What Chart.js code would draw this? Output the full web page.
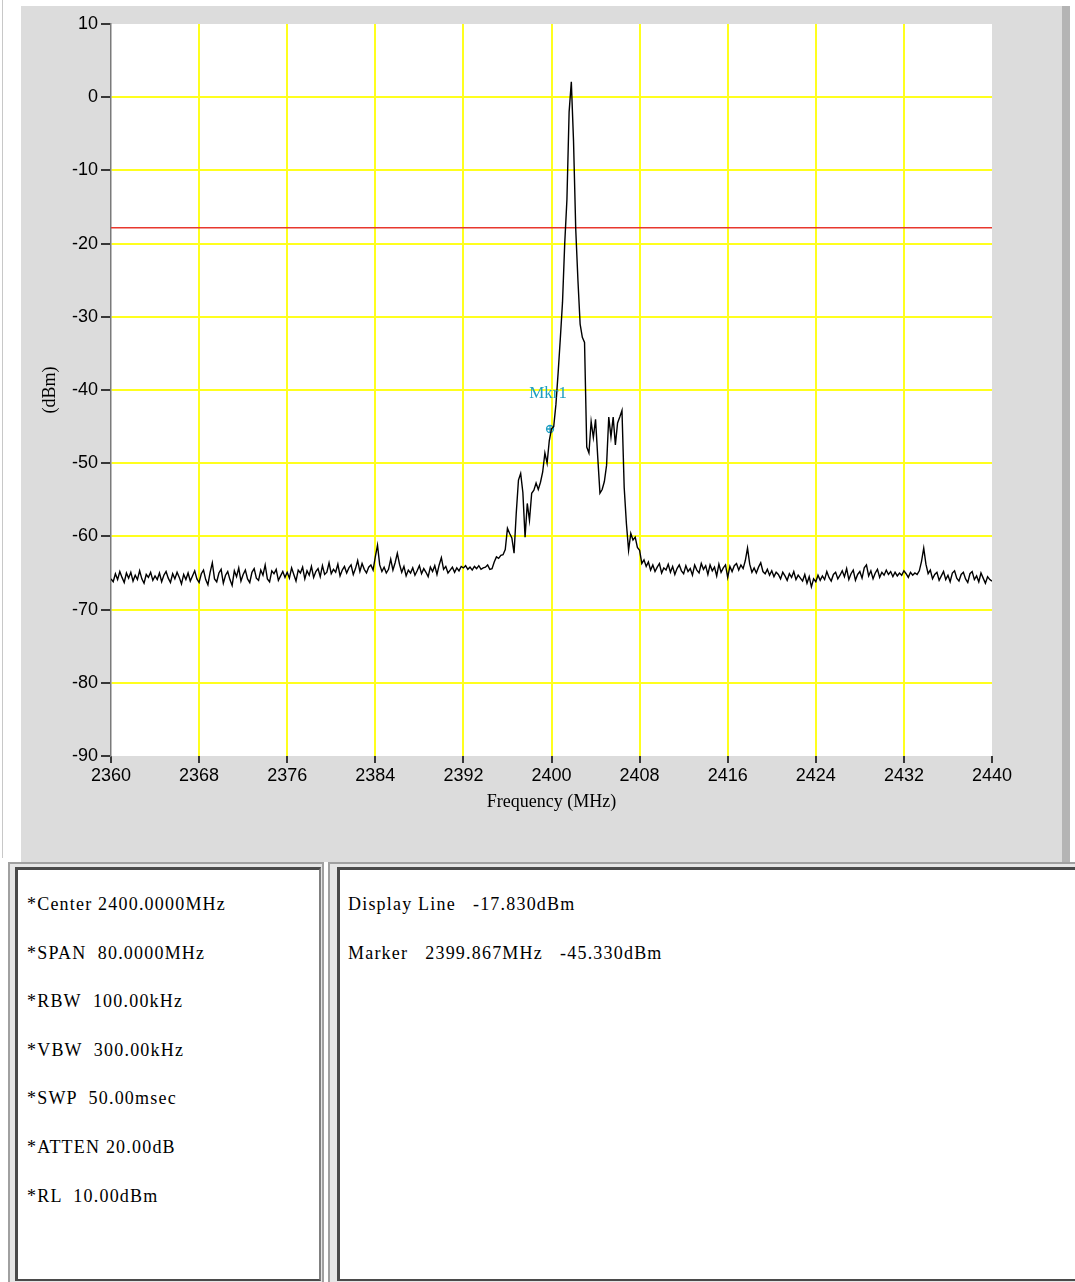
<!DOCTYPE html>
<html>
<head>
<meta charset="utf-8">
<script src="https://cdn.jsdelivr.net/npm/chart.js@4.4.1/dist/chart.umd.min.js"></script>
<style>
    body { margin: 0; background: #fff; width: 1075px; height: 1282px; position: relative; overflow: hidden; }
    #edge { position: absolute; left: 2px; top: 0; width: 1px; height: 858px; background: #c8c8c8; }
    #panel { position: absolute; left: 21px; top: 6px; width: 1041px; height: 856px; background: #dcdcdc; }
    #panelEdge { position: absolute; left: 1062px; top: 6px; width: 8px; height: 856px; background: #b4b4b4; }
    #plot { position: absolute; left: 0; top: 0; }
    .frame { position: absolute; box-sizing: border-box; background: #e6e6e6; border: 2px solid #a0a0a0; }
    .inner { position: absolute; box-sizing: border-box; background: #fff; border-left: 3px solid #4a4a4a; border-top: 3px solid #4a4a4a; border-bottom: 2px solid #4a4a4a; }
    #leftFrame { left: 8px; top: 862px; width: 316px; height: 430px; }
    #leftInner { left: 15px; top: 867px; width: 306px; height: 414px; border-right: 2px solid #808080; }
    #rightFrame { left: 328px; top: 862px; width: 760px; height: 430px; }
    #rightInner { left: 337px; top: 867px; width: 750px; height: 414px; }
    .txt { position: absolute; font-family: "Liberation Serif", serif; font-size: 18px; letter-spacing: 1.2px; color: #000; white-space: pre; line-height: 20px; }
</style>
</head>
<body>
<div id="edge"></div>
<div id="panel"></div>
<div id="panelEdge"></div>
<canvas id="plot" width="1075" height="860"></canvas>
<div class="frame" id="leftFrame"></div>
<div class="inner" id="leftInner"></div>
<div class="frame" id="rightFrame"></div>
<div class="inner" id="rightInner"></div>
<script>
// sweep: 401 points, 2360..2440 MHz
const FREQ_START = 2360;
const FREQ_STEP = 0.2;

// 2360.0 - 2391.8 MHz
const NOISE_LOW = [
    -65.8, -66.2, -65.1, -65.9, -64.8, -65.6, -66.3, -65.0, -65.7, -64.9,
    -66.1, -65.3, -65.9, -64.7, -65.8, -66.4, -65.2, -65.6, -64.9, -66.0,
    -65.4, -65.9, -65.0, -66.2, -65.3, -64.8, -65.7, -66.3, -65.1, -65.8,
    -64.9, -65.6, -66.5, -65.2, -65.9, -65.0, -66.1, -65.4, -64.7, -65.8,
    -66.3, -65.1, -64.6, -65.9, -66.6, -64.9, -63.6, -65.8, -66.2, -65.0,
    -64.5, -66.4, -65.3, -64.8, -65.9, -66.7, -64.7, -65.5, -64.3, -66.1,
    -65.2, -64.6, -65.8, -66.3, -64.9, -64.4, -65.7, -66.0, -64.6, -65.3,
    -63.9, -65.8, -66.2, -64.7, -65.1, -64.5, -66.0, -65.4, -64.8, -65.6,
    -64.9, -65.7, -64.3, -65.2, -66.1, -64.6, -65.0, -64.2, -65.8, -64.7,
    -65.3, -64.1, -65.6, -64.8, -64.4, -65.5, -64.0, -65.2, -64.9, -63.6,
    -65.1, -64.5, -64.9, -63.8, -65.4, -64.6, -64.1, -65.0, -64.3, -63.9,
    -65.2, -64.4, -63.3, -64.8, -63.7, -64.5, -65.0, -64.2, -63.9, -64.6,
    -62.8, -61.2, -63.9, -64.8, -64.2, -65.0, -64.5, -63.1, -64.6, -63.6,
    -62.3, -63.8, -64.9, -64.1, -65.4, -64.6, -65.0, -64.3, -65.3, -64.7,
    -64.0, -65.1, -64.4, -64.9, -65.5, -64.2, -64.8, -64.0, -65.2, -63.9,
    -62.9, -64.5, -64.1, -65.0, -64.6, -64.2, -64.9, -64.3, -64.7, -64.1,
];

// 2392.0 - 2408.4 MHz
const SIGNAL = [
    -64.3, -64.0, -64.5, -64.2, -64.6, -64.1, -64.4, -64.0, -64.5, -64.3,
    -64.2, -63.9, -64.5, -64.4, -63.5, -62.8, -63.0, -62.6, -62.5, -61.8,
    -58.9, -59.6, -60.2, -62.3, -56.8, -52.3, -51.4, -54.0, -60.1, -55.5,
    -57.8, -54.1, -53.7, -52.7, -53.6, -52.6, -51.2, -48.6, -50.0, -46.9,
    -45.3, -45.0, -42.0, -37.7, -33.0, -28.0, -20.0, -14.0, -2.0, 2.1,
    -6.0, -18.0, -25.0, -31.0, -32.8, -33.5, -47.8, -48.6, -44.3, -46.5,
    -44.0, -49.2, -54.1, -53.6, -52.5, -50.3, -43.7, -46.4, -43.7, -47.5,
    -44.5, -43.7, -42.8, -53.3, -58.2, -61.9, -59.6, -60.5, -60.1, -61.5,
    -61.9, -63.7, -63.2,
];

// 2408.6 - 2440.0 MHz
const NOISE_HIGH = [
    -64.1, -63.5, -64.6, -63.9, -64.8, -64.2, -63.7, -65.0, -64.3, -64.6,
    -63.8, -64.9, -64.1, -65.2, -64.4, -63.9, -64.7, -65.1, -64.0, -64.8,
    -64.4, -65.3, -63.9, -64.6, -65.0, -63.7, -64.5, -64.0, -65.2, -63.9,
    -64.7, -64.2, -65.4, -63.8, -64.9, -64.3, -63.9, -65.6, -64.1, -64.8,
    -64.0, -63.7, -64.6, -63.9, -64.4, -63.3, -61.6, -63.8, -64.9, -64.3,
    -65.0, -64.2, -63.6, -64.8, -65.1, -64.5, -65.3, -64.7, -65.5, -64.9,
    -65.2, -65.8, -64.9, -65.4, -66.0, -65.1, -65.6, -64.8, -65.9, -65.3,
    -65.7, -66.1, -65.2, -66.4, -65.5, -66.9, -65.8, -66.2, -65.3, -66.0,
    -65.4, -65.9, -64.8, -65.6, -66.1, -65.2, -64.9, -65.8, -65.3, -64.7,
    -65.5, -64.4, -65.9, -65.1, -64.6, -66.0, -65.2, -64.8, -65.7, -64.3,
    -63.9, -65.4, -64.7, -65.8, -65.0, -64.5, -65.6, -64.9, -65.3, -64.6,
    -65.2, -64.8, -65.5, -64.9, -65.4, -65.0, -65.3, -64.7, -65.1, -65.6,
    -64.9, -65.3, -65.0, -65.2, -64.7, -63.4, -61.6, -63.8, -65.1, -64.6,
    -65.8, -65.2, -64.9, -66.0, -65.4, -64.8, -65.9, -65.3, -66.2, -65.0,
    -64.7, -65.7, -66.1, -65.2, -64.9, -65.8, -66.3, -65.1, -64.8, -65.9,
    -65.4, -66.2, -65.0, -65.7, -66.4, -65.5, -65.9, -66.1,
];

const X_TICKS = [2360, 2368, 2376, 2384, 2392, 2400, 2408, 2416, 2424, 2432, 2440];
const Y_TICKS = [10, 0, -10, -20, -30, -40, -50, -60, -70, -80, -90];

const DISPLAY_LINE = -17.83;
const MARKER_FREQ = 2399.867;
const MARKER_LEVEL = -45.33;

const SETTINGS = [
    '*Center 2400.0000MHz',
    '*SPAN  80.0000MHz',
    '*RBW  100.00kHz',
    '*VBW  300.00kHz',
    '*SWP  50.00msec',
    '*ATTEN 20.00dB',
    '*RL  10.00dBm',
];
const READOUT = [
    'Display Line   -17.830dBm',
    'Marker   2399.867MHz   -45.330dBm',
];

const GRID_YELLOW = '#ffff1e';
const MARKER_COLOR = '#1e9ec2';

// text panels
SETTINGS.forEach((t, i) => {
    const d = document.createElement('div');
    d.className = 'txt';
    d.style.left = '27px';
    d.style.top = (894 + i * 48.6) + 'px';
    d.textContent = t;
    document.body.appendChild(d);
});
READOUT.forEach((t, i) => {
    const d = document.createElement('div');
    d.className = 'txt';
    d.style.left = '348px';
    d.style.top = (894 + i * 48.6) + 'px';
    d.textContent = t;
    document.body.appendChild(d);
});

const levels = NOISE_LOW.concat(SIGNAL, NOISE_HIGH);
const trace = levels.map((v, i) => ({ x: FREQ_START + i * FREQ_STEP, y: v }));

const plotBackground = {
    id: 'plotBackground',
    beforeDraw(chart) {
        const { ctx, chartArea: a } = chart;
        ctx.save();
        ctx.fillStyle = '#fff';
        ctx.fillRect(a.left, a.top, a.right - a.left, a.bottom - a.top);
        ctx.restore();
    }
};

const markerLabel = {
    id: 'markerLabel',
    afterDatasetsDraw(chart) {
        const { ctx, scales } = chart;
        const x = scales.x.getPixelForValue(MARKER_FREQ);
        const y = scales.y.getPixelForValue(MARKER_LEVEL);
        ctx.save();
        ctx.fillStyle = MARKER_COLOR;
        ctx.font = '17px "Liberation Serif", serif';
        ctx.textAlign = 'center';
        ctx.textBaseline = 'middle';
        ctx.fillText('Mkr1', x - 2, y - 35);
        ctx.restore();
    }
};

const edgeColor = (ctx, first, last) => {
    if (!ctx.tick) return GRID_YELLOW;
    return (ctx.tick.value === first || ctx.tick.value === last) ? 'rgba(0,0,0,0)' : GRID_YELLOW;
};

new Chart(document.getElementById('plot'), {
    type: 'line',
    data: {
        datasets: [
            {
                data: trace,
                borderColor: '#000',
                borderWidth: 1.4,
                pointRadius: 0,
                tension: 0,
            },
            {
                data: [{ x: 2360, y: DISPLAY_LINE }, { x: 2440, y: DISPLAY_LINE }],
                borderColor: '#e8382e',
                borderWidth: 1.5,
                pointRadius: 0,
            },
            {
                data: [{ x: MARKER_FREQ, y: MARKER_LEVEL }],
                showLine: false,
                pointStyle: 'circle',
                pointRadius: 3.5,
                borderColor: MARKER_COLOR,
                backgroundColor: 'rgba(0,0,0,0)',
                borderWidth: 1.3,
            },
            {
                data: [{ x: MARKER_FREQ, y: MARKER_LEVEL }],
                showLine: false,
                pointStyle: 'cross',
                pointRadius: 3.5,
                borderColor: MARKER_COLOR,
                borderWidth: 1.3,
            },
        ]
    },
    options: {
        responsive: false,
        animation: false,
        devicePixelRatio: 1,
        layout: {
            padding: { left: 0, right: 83, top: 24, bottom: 44 }
        },
        plugins: {
            legend: { display: false },
            tooltip: { enabled: false },
        },
        scales: {
            x: {
                type: 'linear',
                min: 2360,
                max: 2440,
                afterBuildTicks: (s) => { s.ticks = X_TICKS.map(v => ({ value: v })); },
                afterFit: (s) => { s.height = 60; },
                border: { display: false },
                grid: {
                    color: (ctx) => edgeColor(ctx, 2360, 2440),
                    lineWidth: 2,
                    tickColor: '#000',
                    tickLength: 7,
                    tickWidth: 1.5,
                },
                ticks: {
                    color: '#000',
                    padding: 2,
                    maxRotation: 0,
                    callback: (v) => String(v),
                    font: { family: '"Liberation Sans", sans-serif', size: 18 },
                },
                title: {
                    display: true,
                    text: 'Frequency (MHz)',
                    color: '#000',
                    padding: { top: 0, bottom: 3 },
                    font: { family: '"Liberation Serif", serif', size: 18 },
                },
            },
            y: {
                min: -90,
                max: 10,
                afterBuildTicks: (s) => { s.ticks = Y_TICKS.map(v => ({ value: v })); },
                afterFit: (s) => { s.width = 111; },
                border: { display: true, color: '#7a7a7a', width: 1.5 },
                grid: {
                    color: (ctx) => edgeColor(ctx, -90, 10),
                    lineWidth: 2,
                    tickColor: '#000',
                    tickLength: 10,
                    tickWidth: 1.5,
                },
                ticks: {
                    color: '#000',
                    padding: 3,
                    callback: (v) => String(v),
                    font: { family: '"Liberation Sans", sans-serif', size: 18 },
                },
                title: {
                    display: true,
                    text: '(dBm)',
                    color: '#000',
                    padding: { top: 39, bottom: 0 },
                    font: { family: '"Liberation Serif", serif', size: 18 },
                },
            },
        }
    },
    plugins: [plotBackground, markerLabel]
});
</script>
</body>
</html>
